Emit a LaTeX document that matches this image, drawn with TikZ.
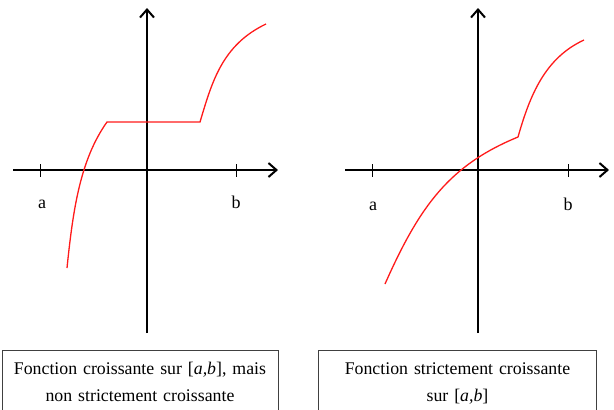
\documentclass[tikz,border=0pt]{standalone}
\usepackage{fontspec}
\setmainfont{Liberation Serif}
\usetikzlibrary{arrows.meta}
\definecolor{cCurve}{HTML}{FF1A1A}
\tikzset{
  axis/.style={line width=2.2pt, line cap=butt,
               -{Straight Barb[length=8pt, width=14pt, line width=2pt]}},
  tickmark/.style={line width=1pt},
  curve/.style={draw=cCurve, line width=1.3pt},
  lbl/.style={font=\fontsize{18}{20}\selectfont, inner sep=0pt, anchor=base},
  % caption boxes: the bottom edge runs off the page, as in the source
  capbox/.style={draw=black!75, line width=1pt, anchor=north, align=center,
                 font=\fontsize{17.8}{27}\selectfont,
                 inner xsep=0pt, inner ysep=12pt},
}

\begin{document}
\begin{tikzpicture}[x=1pt, y=-1pt]
\useasboundingbox (0,0) rectangle (614,410);

%% ── left graph: increasing, but flat on a stretch ────────────────────────
\coordinate (oL) at (147,170);
\coordinate (xsL) at (13,170);
\coordinate (xeL) at (278,170);
\coordinate (ysL) at (147,333);
\coordinate (yeL) at (147,8);
\coordinate (taL) at (40,170);
\coordinate (tbL) at (236,170);

\draw[axis] (xsL) -- (xeL);
\draw[axis] (ysL) -- (yeL);
\draw[tickmark] (taL) ++(0,-6) -- ++(0,13);
\draw[tickmark] (tbL) ++(0,-6) -- ++(0,13);
\node[lbl] (laL) at (42,208) {a};
\node[lbl] (lbL) at (236,208) {b};

\draw[curve] (67,268) .. controls (73,210) and (80,160) .. (107,122)
  -- (200,122) .. controls (212,82) and (222,45) .. (266,24);

\node[capbox, text width=276pt] (capL) at (140,350)
  {Fonction croissante sur [\textit{a,b}], mais\\non strictement croissante};

%% ── right graph: strictly increasing ─────────────────────────────────────
\coordinate (oR) at (478,170);
\coordinate (xsR) at (345,170);
\coordinate (xeR) at (609,170);
\coordinate (ysR) at (478,333);
\coordinate (yeR) at (478,8);
\coordinate (taR) at (372,170);
\coordinate (tbR) at (568,170);

\draw[axis] (xsR) -- (xeR);
\draw[axis] (ysR) -- (yeR);
\draw[tickmark] (taR) ++(0,-6) -- ++(0,13);
\draw[tickmark] (tbR) ++(0,-6) -- ++(0,13);
\node[lbl] (laR) at (373,210) {a};
\node[lbl] (lbR) at (568,210) {b};

\draw[curve] (385,284) .. controls (420,205) and (450,165) .. (518,137)
  .. controls (530,95) and (545,58) .. (584,40);

\node[capbox, text width=278pt] (capR) at (457.5,350)
  {Fonction strictement croissante\\sur [\textit{a,b}]};

\end{tikzpicture}
\end{document}
